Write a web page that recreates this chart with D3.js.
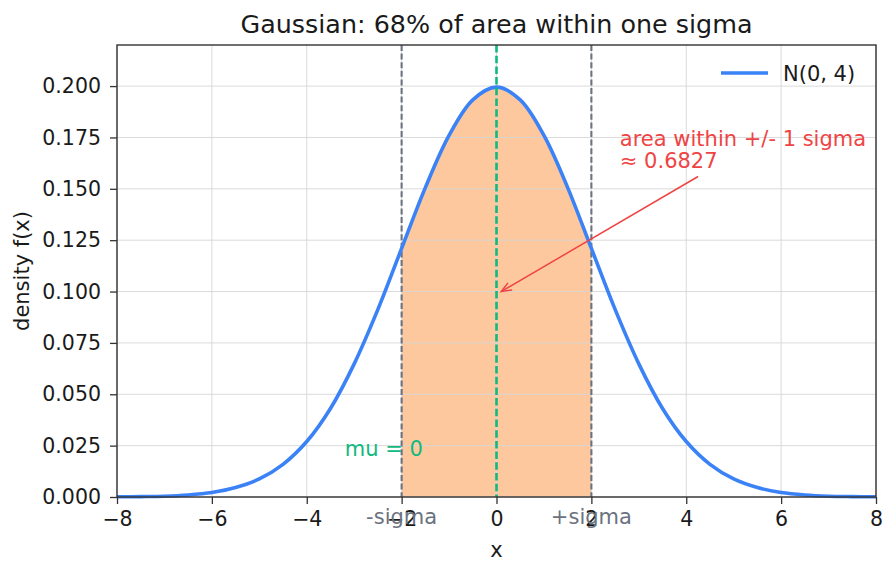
<!DOCTYPE html>
<html>
<head>
<meta charset="utf-8">
<script src="https://cdn.jsdelivr.net/npm/d3@7"></script>
<style>
  body { margin: 0; background: #fff; }
  text { font-family: "DejaVu Sans", sans-serif; }
</style>
</head>
<body>
<svg id="chart" width="896" height="573"></svg>
<script>
// values
let xVals = [-8, -7.5, -7, -6.5, -6, -5.5, -5, -4.5, -4, -3.5, -3, -2.5, -2, -1.5, -1, -0.5, 0,
             0.5, 1, 1.5, 2, 2.5, 3, 3.5, 4, 4.5, 5, 5.5, 6, 6.5, 7, 7.5, 8]
let density = [0.0001, 0.0002, 0.0004, 0.0010, 0.0022, 0.0046, 0.0088, 0.0159, 0.0270, 0.0431, 0.0648, 0.0913, 0.1210, 0.1506, 0.1760, 0.1933, 0.1995,
               0.1933, 0.1760, 0.1506, 0.1210, 0.0913, 0.0648, 0.0431, 0.0270, 0.0159, 0.0088, 0.0046, 0.0022, 0.0010, 0.0004, 0.0002, 0.0001]
let xTicks = [-8, -6, -4, -2, 0, 2, 4, 6, 8]
let yTicks = [0, 0.025, 0.05, 0.075, 0.1, 0.125, 0.15, 0.175, 0.2]
let sigmaLines = [-2, 2]
let sigmaLabels = ["-sigma", "+sigma"]
let muValue = 0
let muLabelPos = [-3.2, 0.02]
let annotPoint = [0.1, 0.1]
let annotTail = [4.25, 0.156]
let annotTextPos = [2.6, 0.16]
let annotLines = ["area within +/- 1 sigma", "\u2248 0.6827"]
let legendLabel = "N(0, 4)"

let svg = d3.select("#chart")
let margin = {left: 117, right: 20, top: 45, bottom: 76}
let width = 896, height = 573

let x = d3.scaleLinear().domain([-8, 8]).range([margin.left, width - margin.right])
let y = d3.scaleLinear().domain([0, 0.22]).range([height - margin.bottom, margin.top])

let data = xVals.map((v, i) => ({x: v, y: density[i]}))

// shaded area between -sigma and +sigma
let inside = data.filter(d => d.x >= -2 && d.x <= 2)
let area = d3.area()
    .x(d => x(d.x))
    .y0(y(0))
    .y1(d => y(d.y))
    .curve(d3.curveCatmullRom)
svg.append("path")
    .datum(inside)
    .attr("d", area)
    .style("fill", "#fb923c")
    .style("fill-opacity", 0.5)

// grid
let grid = svg.append("g")
grid.selectAll(".gx")
    .data(xTicks)
    .join("line")
    .attr("x1", d => x(d)).attr("x2", d => x(d))
    .attr("y1", y(0.22)).attr("y2", y(0))
    .style("stroke", "#d6d6d6").style("stroke-width", 0.9)
grid.selectAll(".gy")
    .data(yTicks)
    .join("line")
    .attr("x1", x(-8)).attr("x2", x(8))
    .attr("y1", d => y(d)).attr("y2", d => y(d))
    .style("stroke", "#d6d6d6").style("stroke-width", 0.9)

// sigma lines
svg.append("g").selectAll("line")
    .data(sigmaLines)
    .join("line")
    .attr("x1", d => x(d)).attr("x2", d => x(d))
    .attr("y1", y(0.22)).attr("y2", y(0))
    .style("stroke", "#6b7280")
    .style("stroke-width", 2.1)
    .style("stroke-dasharray", "6,2.6")

// density curve
let line = d3.line()
    .x(d => x(d.x))
    .y(d => y(d.y))
    .curve(d3.curveCatmullRom)
svg.append("path")
    .datum(data)
    .attr("d", line)
    .style("fill", "none")
    .style("stroke", "#3b82f6")
    .style("stroke-width", 3.6)

// mean line
svg.append("line")
    .attr("x1", x(muValue)).attr("x2", x(muValue))
    .attr("y1", y(0.22)).attr("y2", y(0))
    .style("stroke", "#10b981")
    .style("stroke-width", 2.6)
    .style("stroke-dasharray", "7.5,3.2")

// spines
svg.append("rect")
    .attr("x", x(-8)).attr("y", y(0.22))
    .attr("width", x(8) - x(-8)).attr("height", y(0) - y(0.22))
    .style("fill", "none").style("stroke", "#333").style("stroke-width", 1.4)

// axes
let fmtX = d => d < 0 ? "\u2212" + Math.abs(d) : String(d)
let xAxis = svg.append("g")
    .attr("transform", "translate(0," + y(0) + ")")
    .call(d3.axisBottom(x).tickValues(xTicks).tickFormat(fmtX).tickSize(7).tickPadding(7))
let yAxis = svg.append("g")
    .attr("transform", "translate(" + x(-8) + ",0)")
    .call(d3.axisLeft(y).tickValues(yTicks).tickFormat(d3.format(".3f")).tickSize(7).tickPadding(9))
for (let ax of [xAxis, yAxis]) {
    ax.select(".domain").remove()
    ax.selectAll(".tick line").style("stroke", "#333").style("stroke-width", 1.3)
    ax.selectAll(".tick text")
        .style("font-size", "20.5px")
        .style("fill", "#1a1a1a")
        .style("font-family", "DejaVu Sans")
}

// labels
svg.append("text")
    .attr("x", (x(-8) + x(8)) / 2).attr("y", 33)
    .attr("text-anchor", "middle")
    .style("font-size", "25.4px").style("fill", "#1a1a1a")
    .text("Gaussian: 68% of area within one sigma")
svg.append("text")
    .attr("x", (x(-8) + x(8)) / 2).attr("y", 557)
    .attr("text-anchor", "middle")
    .style("font-size", "21px").style("fill", "#1a1a1a")
    .text("x")
svg.append("text")
    .attr("transform", "translate(29," + (y(0.11)) + ") rotate(-90)")
    .attr("text-anchor", "middle")
    .style("font-size", "21px").style("fill", "#1a1a1a")
    .text("density f(x)")

// sigma labels
svg.append("g").selectAll("text")
    .data(sigmaLines)
    .join("text")
    .attr("x", d => x(d)).attr("y", y(-0.0095))
    .attr("text-anchor", "middle")
    .attr("dominant-baseline", "central")
    .style("font-size", "21px").style("fill", "#6b7280")
    .text((d, i) => sigmaLabels[i])

// mu label
svg.append("text")
    .attr("x", x(muLabelPos[0])).attr("y", y(muLabelPos[1]))
    .style("font-size", "21px").style("fill", "#10b981")
    .text("mu = " + muValue)

// annotation
let red = "#ef4444"
svg.append("g").selectAll("text")
    .data(annotLines)
    .join("text")
    .attr("x", x(annotTextPos[0]))
    .attr("y", (d, i) => y(annotTextPos[1]) - (annotLines.length - 1 - i) * 22)
    .style("font-size", "21px").style("fill", red)
    .text(d => d)

let hx = x(annotPoint[0]), hy = y(annotPoint[1])
let tx = x(annotTail[0]), ty = y(annotTail[1])
svg.append("line")
    .attr("x1", tx).attr("y1", ty).attr("x2", hx).attr("y2", hy)
    .style("stroke", red).style("stroke-width", 1.5)
let ang = Math.atan2(ty - hy, tx - hx)
let headLen = 11, spread = 0.38
svg.append("path")
    .attr("d", "M" + (hx + headLen * Math.cos(ang - spread)) + "," + (hy + headLen * Math.sin(ang - spread)) +
        "L" + hx + "," + hy +
        "L" + (hx + headLen * Math.cos(ang + spread)) + "," + (hy + headLen * Math.sin(ang + spread)))
    .style("fill", "none").style("stroke", red).style("stroke-width", 1.5)

// legend
svg.append("line")
    .attr("x1", 721).attr("x2", 768).attr("y1", 73).attr("y2", 73)
    .style("stroke", "#3b82f6").style("stroke-width", 3.6)
svg.append("text")
    .attr("x", 783).attr("y", 81)
    .style("font-size", "21px").style("fill", "#1a1a1a")
    .text(legendLabel)
</script>
</body>
</html>
